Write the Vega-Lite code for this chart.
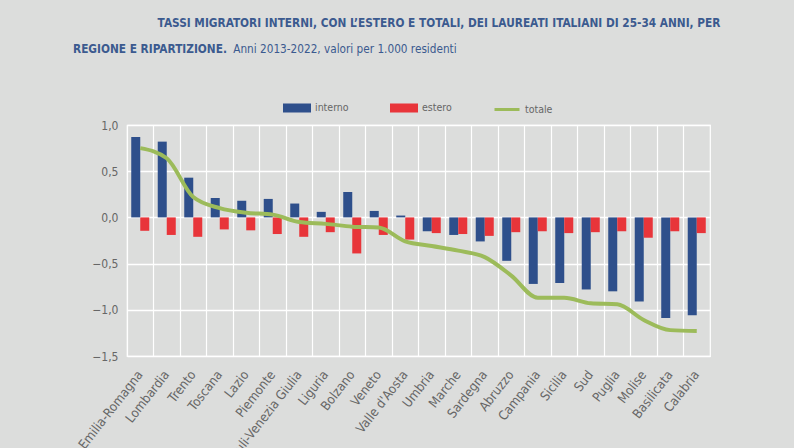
{
  "$schema": "https://vega.github.io/schema/vega-lite/v6.json",
  "width": 583,
  "height": 231,
  "padding": {"left": 73, "top": 17, "right": 73, "bottom": 0},
  "background": "#DCDDDC",
  "title": {
    "text": ["\u200b\u00a0\u00a0\u00a0\u00a0\u00a0\u00a0\u00a0\u00a0\u00a0\u00a0\u00a0\u00a0\u00a0\u00a0\u00a0\u00a0\u00a0\u00a0\u00a0\u00a0\u00a0\u00a0\u00a0TASSI MIGRATORI INTERNI, CON L\u2019ESTERO E TOTALI, DEI LAUREATI ITALIANI DI 25-34 ANNI, PER", "REGIONE E RIPARTIZIONE."],
    "subtitle": "\u200b\u00a0\u00a0\u00a0\u00a0\u00a0\u00a0\u00a0\u00a0\u00a0\u00a0\u00a0\u00a0\u00a0\u00a0\u00a0\u00a0\u00a0\u00a0\u00a0\u00a0\u00a0\u00a0\u00a0\u00a0\u00a0\u00a0\u00a0\u00a0\u00a0\u00a0\u00a0\u00a0\u00a0\u00a0\u00a0\u00a0\u00a0\u00a0\u00a0\u00a0\u00a0\u00a0\u00a0\u00a0\u00a0\u00a0\u00a0\u00a0Anni 2013-2022, valori per 1.000 residenti",
    "anchor": "start",
    "frame": "group",
    "dx": -54,
    "font": "DejaVu Sans Condensed, Liberation Sans, sans-serif",
    "fontSize": 11.75,
    "fontWeight": "bold",
    "color": "#3B5A8F",
    "lineHeight": 26,
    "subtitleFont": "DejaVu Sans Condensed, Liberation Sans, sans-serif",
    "subtitleFontSize": 11.7,
    "subtitleColor": "#3B5A8F",
    "subtitlePadding": -11,
    "offset": 38
  },
  "data": {
    "values": [
      {"regione": "Emilia-Romagna", "tipo": "interno", "valore": 0.87},
      {"regione": "Emilia-Romagna", "tipo": "estero", "valore": -0.145},
      {"regione": "Emilia-Romagna", "tipo": "totale", "valore": 0.75},
      {"regione": "Lombardia", "tipo": "interno", "valore": 0.82},
      {"regione": "Lombardia", "tipo": "estero", "valore": -0.19},
      {"regione": "Lombardia", "tipo": "totale", "valore": 0.64},
      {"regione": "Trento", "tipo": "interno", "valore": 0.43},
      {"regione": "Trento", "tipo": "estero", "valore": -0.21},
      {"regione": "Trento", "tipo": "totale", "valore": 0.22},
      {"regione": "Toscana", "tipo": "interno", "valore": 0.21},
      {"regione": "Toscana", "tipo": "estero", "valore": -0.13},
      {"regione": "Toscana", "tipo": "totale", "valore": 0.10},
      {"regione": "Lazio", "tipo": "interno", "valore": 0.18},
      {"regione": "Lazio", "tipo": "estero", "valore": -0.14},
      {"regione": "Lazio", "tipo": "totale", "valore": 0.05},
      {"regione": "Piemonte", "tipo": "interno", "valore": 0.20},
      {"regione": "Piemonte", "tipo": "estero", "valore": -0.18},
      {"regione": "Piemonte", "tipo": "totale", "valore": 0.03},
      {"regione": "Friuli-Venezia Giulia", "tipo": "interno", "valore": 0.15},
      {"regione": "Friuli-Venezia Giulia", "tipo": "estero", "valore": -0.21},
      {"regione": "Friuli-Venezia Giulia", "tipo": "totale", "valore": -0.05},
      {"regione": "Liguria", "tipo": "interno", "valore": 0.06},
      {"regione": "Liguria", "tipo": "estero", "valore": -0.16},
      {"regione": "Liguria", "tipo": "totale", "valore": -0.07},
      {"regione": "Bolzano", "tipo": "interno", "valore": 0.275},
      {"regione": "Bolzano", "tipo": "estero", "valore": -0.39},
      {"regione": "Bolzano", "tipo": "totale", "valore": -0.10},
      {"regione": "Veneto", "tipo": "interno", "valore": 0.07},
      {"regione": "Veneto", "tipo": "estero", "valore": -0.19},
      {"regione": "Veneto", "tipo": "totale", "valore": -0.11},
      {"regione": "Valle d'Aosta", "tipo": "interno", "valore": 0.02},
      {"regione": "Valle d'Aosta", "tipo": "estero", "valore": -0.24},
      {"regione": "Valle d'Aosta", "tipo": "totale", "valore": -0.26},
      {"regione": "Umbria", "tipo": "interno", "valore": -0.15},
      {"regione": "Umbria", "tipo": "estero", "valore": -0.17},
      {"regione": "Umbria", "tipo": "totale", "valore": -0.31},
      {"regione": "Marche", "tipo": "interno", "valore": -0.19},
      {"regione": "Marche", "tipo": "estero", "valore": -0.18},
      {"regione": "Marche", "tipo": "totale", "valore": -0.36},
      {"regione": "Sardegna", "tipo": "interno", "valore": -0.26},
      {"regione": "Sardegna", "tipo": "estero", "valore": -0.20},
      {"regione": "Sardegna", "tipo": "totale", "valore": -0.43},
      {"regione": "Abruzzo", "tipo": "interno", "valore": -0.47},
      {"regione": "Abruzzo", "tipo": "estero", "valore": -0.16},
      {"regione": "Abruzzo", "tipo": "totale", "valore": -0.63},
      {"regione": "Campania", "tipo": "interno", "valore": -0.72},
      {"regione": "Campania", "tipo": "estero", "valore": -0.15},
      {"regione": "Campania", "tipo": "totale", "valore": -0.87},
      {"regione": "Sicilia", "tipo": "interno", "valore": -0.71},
      {"regione": "Sicilia", "tipo": "estero", "valore": -0.17},
      {"regione": "Sicilia", "tipo": "totale", "valore": -0.87},
      {"regione": "Sud", "tipo": "interno", "valore": -0.78},
      {"regione": "Sud", "tipo": "estero", "valore": -0.16},
      {"regione": "Sud", "tipo": "totale", "valore": -0.93},
      {"regione": "Puglia", "tipo": "interno", "valore": -0.80},
      {"regione": "Puglia", "tipo": "estero", "valore": -0.15},
      {"regione": "Puglia", "tipo": "totale", "valore": -0.94},
      {"regione": "Molise", "tipo": "interno", "valore": -0.91},
      {"regione": "Molise", "tipo": "estero", "valore": -0.22},
      {"regione": "Molise", "tipo": "totale", "valore": -1.11},
      {"regione": "Basilicata", "tipo": "interno", "valore": -1.09},
      {"regione": "Basilicata", "tipo": "estero", "valore": -0.15},
      {"regione": "Basilicata", "tipo": "totale", "valore": -1.22},
      {"regione": "Calabria", "tipo": "interno", "valore": -1.06},
      {"regione": "Calabria", "tipo": "estero", "valore": -0.17},
      {"regione": "Calabria", "tipo": "totale", "valore": -1.23}
    ]
  },
  "encoding": {
    "x": {
      "field": "regione",
      "type": "nominal",
      "sort": null,
      "scale": {"paddingInner": 0, "paddingOuter": 0},
      "axis": {
        "title": null,
        "domain": false,
        "ticks": false,
        "grid": true,
        "gridColor": "#FFFFFF",
        "gridWidth": 1.2,
        "bandPosition": 0,
        "labelAngle": -52,
        "labelAlign": "right",
        "labelBaseline": "middle",
        "labelPadding": 16,
        "labelFont": "DejaVu Sans Condensed, Liberation Sans, sans-serif",
        "labelFontSize": 13,
        "labelColor": "#666666"
      }
    },
    "y": {
      "field": "valore",
      "type": "quantitative",
      "scale": {"domain": [-1.5, 1.0], "nice": false},
      "axis": {
        "title": null,
        "domain": false,
        "ticks": false,
        "values": [-1.5, -1, -0.5, 0, 0.5, 1],
        "labelExpr": "replace(format(datum.value, '.1f'), '.', ',')",
        "grid": true,
        "gridColor": "#FFFFFF",
        "gridWidth": 1.5,
        "labelPadding": 9,
        "labelFont": "DejaVu Sans Condensed, Liberation Sans, sans-serif",
        "labelFontSize": 12,
        "labelColor": "#666666"
      }
    },
    "color": {
      "field": "tipo",
      "type": "nominal",
      "scale": {"domain": ["interno", "estero", "totale"], "range": ["#2E4F8B", "#E8353A", "#9CBB5A"]},
      "legend": {
        "title": null,
        "orient": "none",
        "legendX": 156,
        "legendY": -31,
        "direction": "horizontal",
        "labelFont": "DejaVu Sans Condensed, Liberation Sans, sans-serif",
        "labelFontSize": 10.5,
        "labelColor": "#666666",
        "labelOffset": 4,
        "columnPadding": 36,
        "symbolSize": 625,
        "encode": {
          "symbols": {
            "update": {
              "shape": {"signal": "datum.value === 'totale' ? 'stroke' : 'M-1,-0.24H1V0.24H-1Z'"},
              "fill": {"signal": "datum.value === 'totale' ? 'transparent' : scale('color', datum.value)"},
              "stroke": {"signal": "datum.value === 'totale' ? scale('color', datum.value) : 'transparent'"},
              "strokeWidth": {"value": 3},
              "opacity": {"value": 1}
            }
          }
        }
      }
    }
  },
  "layer": [
    {
      "transform": [{"filter": "datum.tipo !== 'totale'"}],
      "mark": {"type": "bar"},
      "encoding": {
        "xOffset": {
          "field": "tipo",
          "type": "nominal",
          "sort": ["interno", "estero"],
          "scale": {"paddingInner": 0, "paddingOuter": 0.47}
        }
      }
    },
    {
      "transform": [{"filter": "datum.tipo === 'totale'"}],
      "mark": {"type": "line", "strokeWidth": 4, "interpolate": "monotone"},
      "encoding": {}
    }
  ],
  "config": {
    "view": {"stroke": "#FFFFFF", "strokeWidth": 1.2, "fill": "#DCDDDC"},
    "axis": {"gridOpacity": 1}
  }
}
